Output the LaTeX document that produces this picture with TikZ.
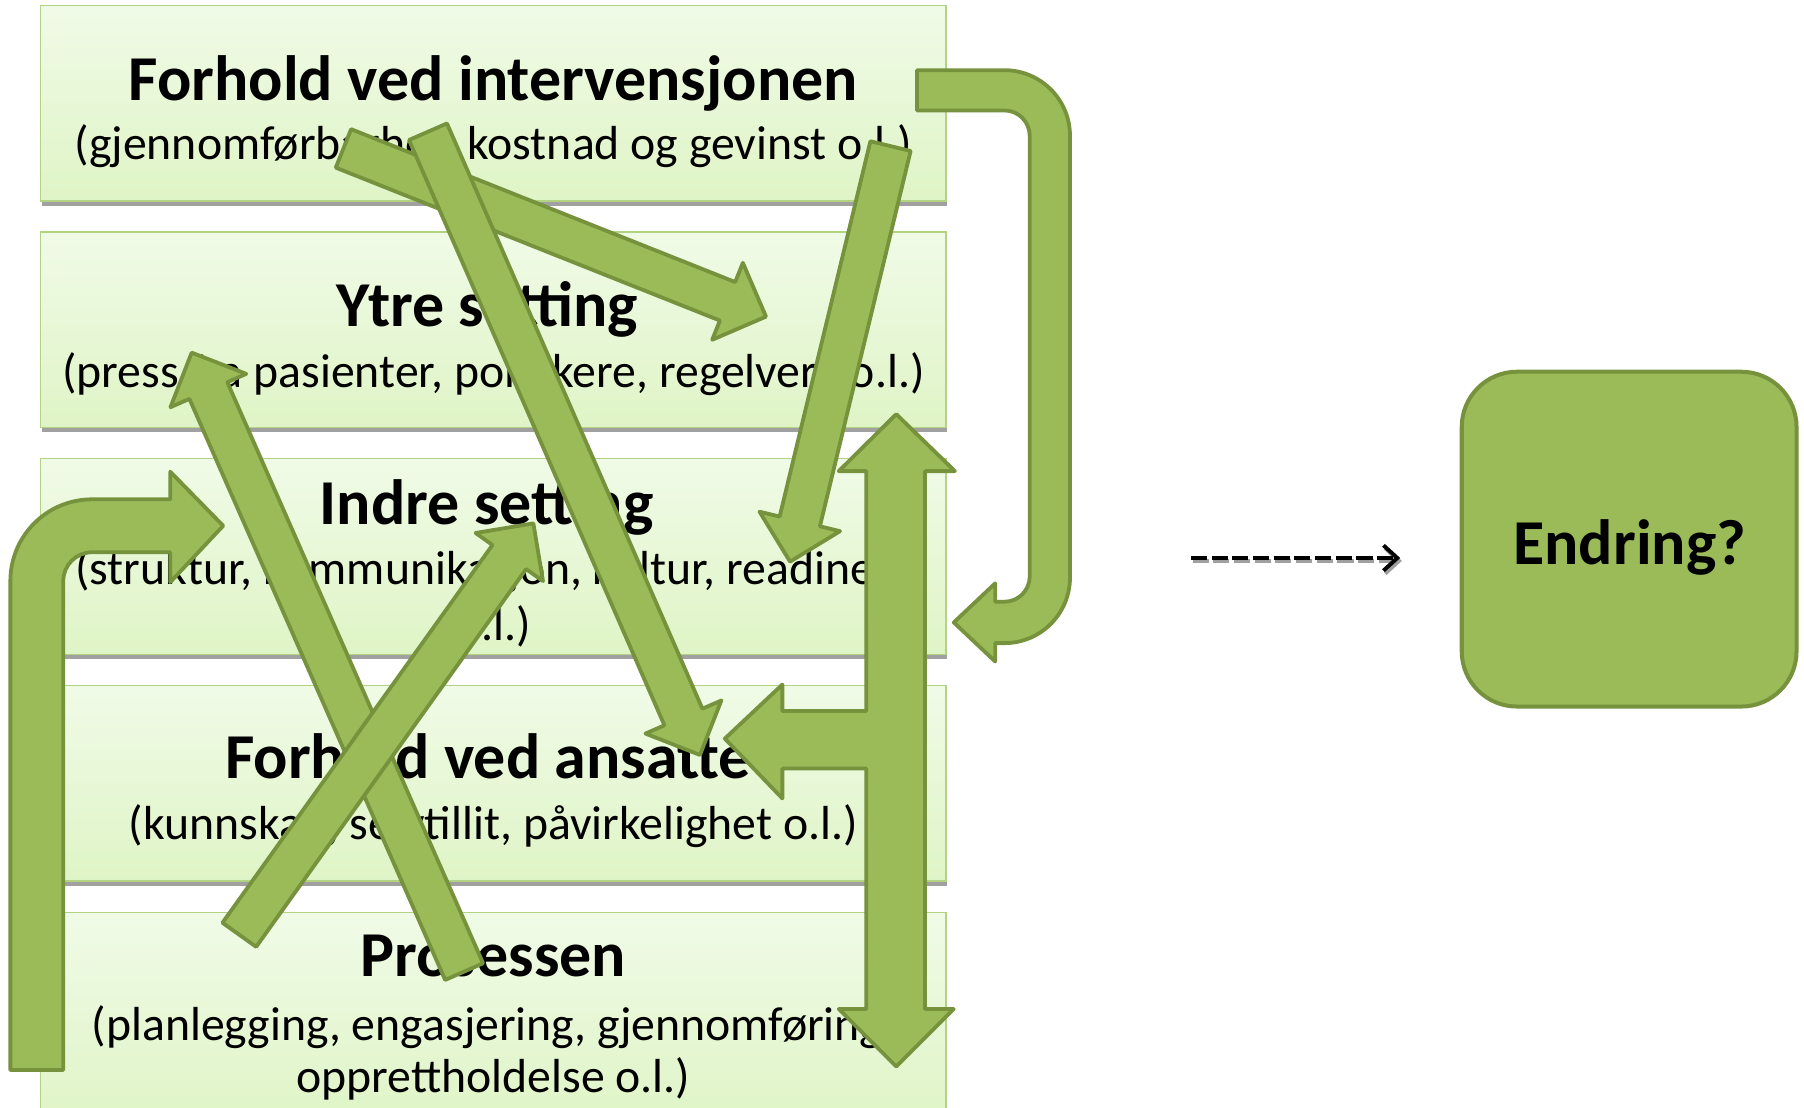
\documentclass[tikz,border=0pt]{standalone}
\usepackage{fontspec}
\setmainfont{Carlito}
\usetikzlibrary{calc,arrows.meta}

\definecolor{arrowfill}{HTML}{9BBB59}
\definecolor{arrowline}{HTML}{76923C}
\definecolor{boxtop}{RGB}{240,251,231}
\definecolor{boxbottom}{RGB}{223,244,198}
\definecolor{boxline}{RGB}{178,212,130}
\definecolor{shadowgrey}{RGB}{160,160,160}

\tikzset{
  stagebox/.style={draw=boxline, line width=1.2pt, top color=boxtop, bottom color=boxbottom,
    minimum width=787pt, minimum height=170pt, inner sep=0pt, outer sep=0pt,
    preaction={fill=shadowgrey, transform canvas={shift={(1pt,-4pt)}}}},
  titletext/.style={anchor=base, inner sep=0pt, font=\fontsize{55.6}{62}\selectfont\bfseries},
  subtext/.style={anchor=base, inner sep=0pt, font=\fontsize{41.5}{48}\selectfont},
  arrowshape/.style={fill=arrowfill, draw=arrowline, line width=3.3pt, line join=round},
}

% straight block arrow: name, tail centre, tip
\newcommand\blockarrow[3]{%
  \coordinate (#1-back) at ($(#3)!36pt!(#2)$);
  \draw[arrowshape] ($(#2)!18pt!90:(#3)$) -- ($(#1-back)!18pt!90:(#3)$)
    -- ($(#1-back)!36pt!90:(#3)$) -- (#3) -- ($(#1-back)!36pt!-90:(#3)$)
    -- ($(#1-back)!18pt!-90:(#3)$) -- ($(#2)!18pt!-90:(#3)$) -- cycle;
}

\begin{document}
\begin{tikzpicture}[x=1pt,y=-1pt]
\clip (0,0) rectangle (1568,963);
\fill[white] (0,0) rectangle (1568,963);

% the five stages
\node[stagebox] (b1) at (428.8,89.7) {};
\node[stagebox] (b2) at (428.8,286.7) {};
\node[stagebox] (b3) at (428.8,483.7) {};
\node[stagebox] (b4) at (428.8,680.7) {};
\node[stagebox, minimum height=185pt] (b5) at (428.8,885.7) {};

\node[titletext] (t1) at (428.8,87) {Forhold ved intervensjonen};
\node[subtext] (s1) at (428.8,139) {(gjennomførbarhet, kostnad og gevinst o.l.)};
\node[titletext] (t2) at (423.5,284) {Ytre setting};
\node[subtext] (s2) at (428.8,337) {(press fra pasienter, politikere, regelverk o.l.)};
\node[titletext] (t3) at (423,456) {Indre setting};
\node[subtext] (s3a) at (428.8,508) {(struktur, kommunikasjon, kultur, readiness};
\node[subtext] (s3b) at (428.8,557) {o.l.)};
\node[titletext] (t4) at (424,677) {Forhold ved ansatte};
\node[subtext] (s4) at (428.8,730) {(kunnskap, selvtillit, påvirkelighet o.l.)};
\node[titletext] (t5) at (428.8,849) {Prosessen};
\node[subtext] (s5a) at (428.8,904) {(planlegging, engasjering, gjennomføring,};
\node[subtext] (s5b) at (428.8,950) {opprettholdelse o.l.)};

% straight arrows between the stages
\coordinate (a1t) at (298.5,129);   \coordinate (a1h) at (665.8,275.2);
\coordinate (a2t) at (372,114.5);   \coordinate (a2h) at (608.4,656.2);
\coordinate (a3t) at (774,127);     \coordinate (a3h) at (686.7,488.2);
\coordinate (a4t) at (403.4,844.5); \coordinate (a4h) at (166.6,306.5);
\coordinate (a5t) at (208,812.5);   \coordinate (a5h) at (463.6,454.9);
\blockarrow{a1}{a1t}{a1h}
\blockarrow{a2}{a2t}{a2h}
\blockarrow{a3}{a3t}{a3h}
\blockarrow{a4}{a4t}{a4h}
\blockarrow{a5}{a5t}{a5h}

% bent arrow on the left, up into the inner setting
\draw[arrowshape] (9,930) -- (9,505) arc[start angle=180, end angle=270, radius=71]
  -- (148,434) -- (148,410) -- (194,457) -- (148,506) -- (148,480) -- (80,480)
  arc[start angle=270, end angle=180, radius=25] -- (55,930) -- cycle;

% U-turn on the right, from the intervention down to the inner setting
\draw[arrowshape] (797,61) -- (873,61) arc[start angle=-90, end angle=0, radius=57]
  -- (930,502) arc[start angle=0, end angle=90, radius=57]
  -- (865,559) -- (865,575) -- (829,541) -- (865,507) -- (865,523) -- (873,523)
  arc[start angle=90, end angle=0, radius=22] -- (895,118)
  arc[start angle=0, end angle=-90, radius=22] -- (797,96) -- cycle;

% vertical double arrow with a branch to the staff
\draw[arrowshape] (779,360) -- (830,409.5) -- (804,409.5) -- (804,877) -- (829,877)
  -- (779,927) -- (729,877) -- (753,877) -- (753,668) -- (680,668) -- (680,694)
  -- (630,642) -- (680,595) -- (680,618) -- (753,618) -- (753,409.5) -- (729,409.5) -- cycle;

% outcome
\node[draw=arrowline, fill=arrowfill, line width=3.5pt, rounded corners=48pt,
  minimum width=291pt, minimum height=291pt, inner sep=0pt] (endring) at (1416,468.6) {};
\node[titletext] (endringtext) at (1416.5,491) {Endring?};

\coordinate (dstart) at (1035,485);
\coordinate (dend) at (1217,485);
\draw[shadowgrey, line width=3.6pt, dash pattern=on 14pt off 4pt,
  -{Straight Barb[length=12pt, width=22pt, line width=3.4pt]}]
  ([shift={(1.5,2.5)}]dstart) -- ([shift={(1.5,2.5)}]dend);
\draw[black, line width=3.6pt, dash pattern=on 14pt off 4pt,
  -{Straight Barb[length=12pt, width=22pt, line width=3.4pt]}] (dstart) -- (dend);
\end{tikzpicture}
\end{document}
